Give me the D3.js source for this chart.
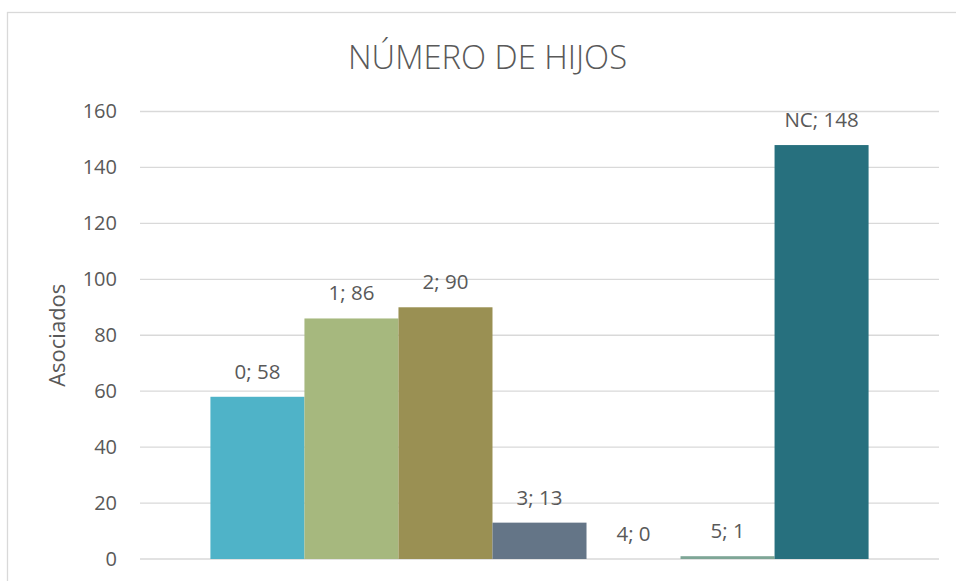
<!DOCTYPE html>
<html>
<head>
<meta charset="utf-8">
<script src="https://cdn.jsdelivr.net/npm/d3@7"></script>
<style>
  body { margin: 0; background: #fff; }
  text { font-family: "Open Sans", sans-serif; fill: #595959; }
</style>
</head>
<body>
<div id="chart"></div>
<script>
// data
var categories = ["0", "1", "2", "3", "4", "5", "NC"];
var values = [58, 86, 90, 13, 0, 1, 148];
var colors = ["#4FB3C8", "#A6B87E", "#9A9053", "#647587", "#8A8F5A", "#7EA696", "#27707E"];
var yTicks = [0, 20, 40, 60, 80, 100, 120, 140, 160];

var svgWidth = 956;
var svgHeight = 581;

var margin = { top: 111.5, right: 17, bottom: 22, left: 140 };
var width = svgWidth - margin.left - margin.right;
var height = svgHeight - margin.top - margin.bottom;

var svg = d3.select("#chart").append("svg")
    .attr("width", svgWidth)
    .attr("height", svgHeight);

// chart area border
svg.append("rect")
    .attr("x", 7.5)
    .attr("y", 12.5)
    .attr("width", 1000)
    .attr("height", 1000)
    .attr("fill", "none")
    .attr("stroke", "#d9d9d9")
    .attr("stroke-width", 1.3);

svg.append("text")
    .attr("x", 487.5)
    .attr("y", 69)
    .attr("text-anchor", "middle")
    .attr("font-size", "33px")
    .attr("font-weight", 300)
    .attr("textLength", 279)
    .attr("lengthAdjust", "spacingAndGlyphs")
    .text("NÚMERO DE HIJOS");

var chartGroup = svg.append("g")
    .attr("transform", `translate(${margin.left}, ${margin.top})`);

var yLinearScale = d3.scaleLinear()
    .domain([0, 160])
    .range([height, 0]);

var x0 = d3.scaleBand()
    .domain(["Asociados"])
    .range([0, width])
    .paddingInner(0)
    .paddingOuter(0.107);

var x1 = d3.scaleBand()
    .domain(categories)
    .range([0, x0.bandwidth()]);

// gridlines
chartGroup.selectAll(".grid")
    .data(yTicks)
    .enter()
    .append("line")
    .attr("x1", 0)
    .attr("x2", width)
    .attr("y1", d => yLinearScale(d))
    .attr("y2", d => yLinearScale(d))
    .attr("stroke", "#d9d9d9")
    .attr("stroke-width", 1.3);

// y axis labels
var leftAxis = d3.axisLeft(yLinearScale).tickValues(yTicks).tickSize(0).tickPadding(23);
var yAxis = chartGroup.append("g").call(leftAxis);
yAxis.select(".domain").remove();
yAxis.selectAll("text")
    .attr("font-size", "20px")
    .attr("font-family", "Open Sans, sans-serif")
    .attr("fill", "#595959");

var barGroup = chartGroup.append("g")
    .attr("transform", `translate(${x0("Asociados")}, 0)`);

barGroup.selectAll("rect")
    .data(values)
    .enter()
    .append("rect")
    .attr("x", (d, i) => x1(categories[i]))
    .attr("y", d => yLinearScale(d))
    .attr("width", x1.bandwidth())
    .attr("height", d => height - yLinearScale(d))
    .attr("fill", (d, i) => colors[i]);

barGroup.selectAll(".lbl")
    .data(values)
    .enter()
    .append("text")
    .attr("class", "lbl")
    .attr("x", (d, i) => x1(categories[i]) + x1.bandwidth() / 2)
    .attr("y", d => yLinearScale(d) - 18)
    .attr("text-anchor", "middle")
    .attr("font-size", "20.5px")
    .text((d, i) => `${categories[i]}; ${d}`);

// axis title
svg.append("text")
    .attr("transform", `translate(65, ${margin.top + height / 2}) rotate(-90)`)
    .attr("text-anchor", "middle")
    .attr("font-size", "22px")
    .text("Asociados");
</script>
</body>
</html>
